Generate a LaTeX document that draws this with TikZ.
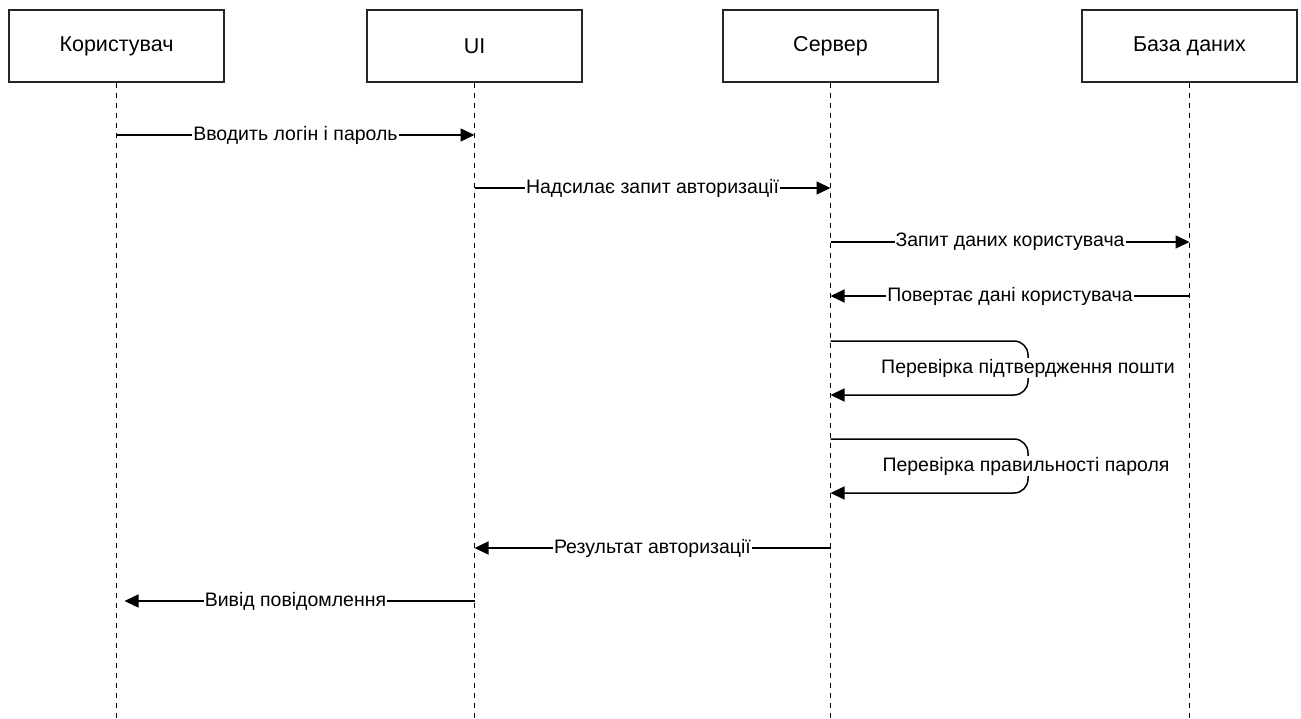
\documentclass[tikz,border=0pt]{standalone}
\usepackage{fontspec}
\setmainfont{Liberation Sans}
\usetikzlibrary{arrows.meta}
\begin{document}
\begin{tikzpicture}[x=1pt,y=-1pt,
  actor/.style={draw=black!85,line width=1.5pt,minimum width=215pt,minimum height=72pt,inner sep=0pt,font=\fontsize{21.5}{24}\selectfont},
  life/.style={line width=1.7pt,dash pattern=on 5pt off 5pt},
  msg/.style={line width=1.5pt,-{Triangle[length=14pt,width=13pt]}},
  lbl/.style={fill=white,inner sep=1pt,font=\fontsize{19.5}{22}\selectfont}]
\useasboundingbox (0,0) rectangle (1301,719);
\node[actor] (A) at (116.5,46) {Користувач};
\node[actor] (B) at (474.5,46) {UI};
\node[actor] (C) at (830.5,46) {Сервер};
\node[actor] (D) at (1189.5,46) {База даних};
\coordinate (Ae) at (116.5,719);
\coordinate (Be) at (474.5,719);
\coordinate (Ce) at (830.5,719);
\coordinate (De) at (1189.5,719);
\draw[life] (A.south) -- (Ae);
\draw[life] (B.south) -- (Be);
\draw[life] (C.south) -- (Ce);
\draw[life] (D.south) -- (De);
\draw[msg] (A |- 0,135) -- node[lbl]{Вводить логін і пароль} (B |- 0,135);
\draw[msg] (B |- 0,188) -- node[lbl]{Надсилає запит авторизації} (C |- 0,188);
\draw[msg] (C |- 0,242) -- node[lbl]{Запит даних користувача} (D |- 0,242);
\draw[msg] (D |- 0,296) -- node[lbl]{Повертає дані користувача} (C |- 0,296);
\coordinate (L1) at (1028,368);
\coordinate (L2) at (1028,466);
\draw[msg,rounded corners=14pt] (C |- 0,341) -- (L1 |- 0,341) -- (L1 |- 0,395) -- (C |- 0,395);
\node[lbl] (t1) at (L1) {Перевірка підтвердження пошти};
\draw[msg,rounded corners=14pt] (C |- 0,439) -- (L2 |- 0,439) -- (L2 |- 0,493) -- (C |- 0,493);
\node[lbl] (t2) at (1026,466) {Перевірка правильності пароля};
\draw[msg] (C |- 0,548) -- node[lbl]{Результат авторизації} (B |- 0,548);
\draw[msg,shorten >=8pt] (B |- 0,601) -- node[lbl]{Вивід повідомлення} (A |- 0,601);
\end{tikzpicture}
\end{document}
